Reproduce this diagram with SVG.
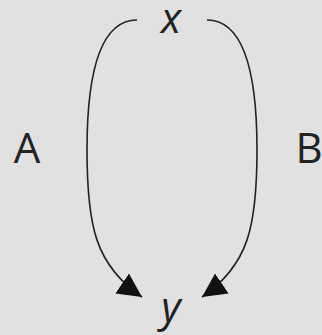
<svg xmlns="http://www.w3.org/2000/svg" width="322" height="335" viewBox="0 0 322 335">
<style>
.t{font-family:"Open Sans","Liberation Sans",sans-serif;font-size:42px;fill:#222}
.v{font-style:italic}
.c{fill:none;stroke:#222;stroke-width:1.6}
</style>
<defs>
<marker id="ah" markerUnits="userSpaceOnUse" markerWidth="30" markerHeight="30" refX="24" refY="12" orient="auto" viewBox="0 0 30 24">
<path d="M0,0 L24,12 L0,24 Z" fill="#111"/>
</marker>
</defs>
<rect width="322" height="335" fill="#e1e1e1"/>
<g id="connectors">
<path class="c" d="M137,20 C100,20 87,75 87,150 C87,225 95,265 142,297" marker-end="url(#ah)"/>
<path class="c" d="M207,20 C244,20 257,75 257,150 C257,225 249,265 202,297" marker-end="url(#ah)"/>
</g>
<g id="node-x"><text class="t v" x="171" y="33" text-anchor="middle">x</text></g>
<g id="node-y"><text class="t v" x="171" y="322" text-anchor="middle">y</text></g>
<g id="label-A"><text class="t" x="27" y="163" text-anchor="middle">A</text></g>
<g id="label-B"><text class="t" x="309" y="163" text-anchor="middle">B</text></g>
</svg>
